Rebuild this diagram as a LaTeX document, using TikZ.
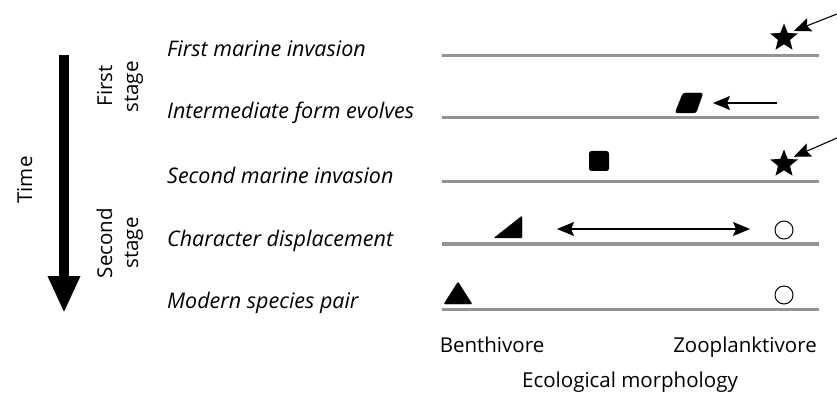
\documentclass[tikz,border=0pt]{standalone}
\usepackage{fontspec}
\setmainfont{Open Sans}
\usetikzlibrary{arrows.meta,shapes.geometric}
\begin{document}
\begin{tikzpicture}[x=1pt,y=-1pt,
  lbl/.style={font=\fontsize{21.5}{24}\selectfont\itshape, anchor=base west, inner sep=0pt},
  txt/.style={font=\fontsize{20.5}{24}\selectfont, anchor=base, inner sep=0pt},
  stg/.style={font=\fontsize{20.5}{24}\selectfont, inner sep=0pt, rotate=90, anchor=base},
  baseline/.style={draw=black!42, line width=3pt},
  marker/.style={fill=black, draw=black, line join=round},
  pointer/.style={-{Stealth[length=17pt,width=14pt,inset=3pt]}, line width=1.1pt},
  dpointer/.style={{Stealth[length=17pt,width=14pt,inset=3pt]}-{Stealth[length=17pt,width=14pt,inset=3pt]}, line width=1.1pt},
  starm/.style={star, star points=5, star point ratio=2.3, fill=black, inner sep=0pt, minimum size=29pt},
  circm/.style={circle, draw=black, line width=1pt, minimum size=18pt, inner sep=0pt}]
\useasboundingbox (0,0) rectangle (837,403);
% time arrow
\coordinate (tstart) at (64,55);
\coordinate (tend) at (64,313);
\draw[line width=10pt, -{Triangle[length=37pt,width=30pt]}] (tstart) -- (tend);
\node[stg] (time) at (32,180) {Time};
\node[stg] (first) at (112,86) {First};
\node[stg] (stage1) at (138,87) {stage};
\node[stg] (second) at (112,243) {Second};
\node[stg] (stage2) at (138,243) {stage};
% row labels
\node[lbl] (l1) at (167,57) {First marine invasion};
\node[lbl] (l2) at (167,119) {Intermediate form evolves};
\node[lbl] (l3) at (167,184) {Second marine invasion};
\node[lbl] (l4) at (167,247) {Character displacement};
\node[lbl] (l5) at (167,308) {Modern species pair};
% baselines
\coordinate (b1l) at (442,56);  \coordinate (b1r) at (819,56);
\coordinate (b2l) at (442,118); \coordinate (b2r) at (819,118);
\coordinate (b3l) at (442,182); \coordinate (b3r) at (819,182);
\coordinate (b4l) at (442,244); \coordinate (b4r) at (819,244);
\coordinate (b5l) at (442,309); \coordinate (b5r) at (819,309);
\foreach \i in {1,...,5} \draw[baseline] (b\i l) -- (b\i r);
% row 1
\node[starm] (s1) at (784,38) {};
\coordinate (p1) at (837,14);
\draw[pointer, shorten >=5pt] (p1) -- (s1.north east);
% row 2
\fill[marker, rounded corners=2.5pt] (683,93) -- (703,93) -- (696,113) -- (675,113) -- cycle;
\coordinate (para) at (713,103);
\coordinate (p2) at (777,103);
\draw[pointer] (p2) -- (para);
% row 3
\node[fill=black, rounded corners=2.5pt, minimum size=20pt, inner sep=0pt] (sq) at (599,161) {};
\node[starm] (s2) at (784,164) {};
\coordinate (p3) at (837,138);
\draw[pointer, shorten >=5pt] (p3) -- (s2.north east);
% row 4
\fill[marker, rounded corners=1pt] (494,238) -- (522,238) -- (522,216) -- cycle;
\coordinate (da) at (557,229);
\coordinate (db) at (750,229);
\node[circm] (c4) at (784,230) {};
\draw[dpointer] (da) -- (db);
% row 5
\fill[marker, rounded corners=1pt] (444,304) -- (472,304) -- (458,282) -- cycle;
\node[circm] (c5) at (784,295) {};
% axis labels
\node[txt] (benth) at (492,352) {Benthivore};
\node[txt] (zoo) at (745,352) {Zooplanktivore};
\node[txt] (eco) at (630,387) {Ecological morphology};
\end{tikzpicture}
\end{document}
